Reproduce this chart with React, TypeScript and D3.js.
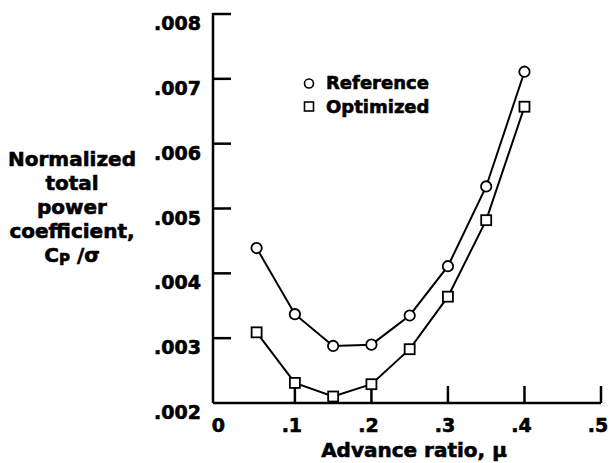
import React from "react";
import * as d3 from "d3";

// Advance ratio values and normalized total power coefficient, Cp/σ
const advanceRatio = [0.05, 0.1, 0.15, 0.2, 0.25, 0.3, 0.35, 0.4];
const referenceCp = [0.00439, 0.00337, 0.00288, 0.0029, 0.00335, 0.00411, 0.00534, 0.00711];
const optimizedCp = [0.00309, 0.00231, 0.0021, 0.00229, 0.00283, 0.00364, 0.00482, 0.00657];

const xTicks = [0, 0.1, 0.2, 0.3, 0.4, 0.5];
const xTickLabels = ["0", ".1", ".2", ".3", ".4", ".5"];
const yTicks = [0.002, 0.003, 0.004, 0.005, 0.006, 0.007, 0.008];
const yTickLabels = [".002", ".003", ".004", ".005", ".006", ".007", ".008"];

const yTitleLines = ["Normalized", "total", "power", "coefficient,"];
const legendLabels = ["Reference", "Optimized"];

const W = 612;
const H = 463;
const FONT = "'DejaVu Sans', sans-serif";

export default function App() {
  const x = d3.scaleLinear().domain([-0.007, 0.5]).range([213, 601]);
  const y = d3.scaleLinear().domain([0.002, 0.008]).range([403, 14]);

  const line = d3
    .line<[number, number]>()
    .x((d) => x(d[0]))
    .y((d) => y(d[1]));

  const refPts = advanceRatio.map((m, i) => [m, referenceCp[i]] as [number, number]);
  const optPts = advanceRatio.map((m, i) => [m, optimizedCp[i]] as [number, number]);

  const x0 = x.range()[0];
  const yBottom = y.range()[0];
  const yTop = y.range()[1];
  const sq = 10;

  return (
    <svg
      width={W}
      height={H}
      viewBox={`0 0 ${W} ${H}`}
      style={{ position: "absolute", left: 0, top: 0, background: "#fff" }}
      fontFamily={FONT}
      fontWeight="bold"
    >
      {/* axes */}
      <g stroke="#000" strokeWidth={2.5} fill="none">
        <line x1={x0} y1={yTop - 1} x2={x0} y2={yBottom} />
        <line x1={x0} y1={yBottom} x2={x(0.5)} y2={yBottom} />
        {yTicks.slice(1).map((t) => (
          <line key={t} x1={x0} x2={x0 + 18} y1={y(t)} y2={y(t)} />
        ))}
        {xTicks.slice(1).map((t) => (
          <line key={t} x1={x(t)} x2={x(t)} y1={yBottom} y2={yBottom - 17} />
        ))}
      </g>

      <g stroke="#000" strokeWidth={0.6}>
        {/* y tick labels */}
        {yTicks.map((t, i) => (
          <text key={t} x={201} y={y(t) + 16} fontSize={19} textAnchor="end">
            {yTickLabels[i]}
          </text>
        ))}

        {/* x tick labels */}
        {xTicks.map((t, i) => (
          <text key={t} x={x(t) - (i === 0 ? 0 : 3)} y={yBottom + 29} fontSize={19} textAnchor="middle">
            {xTickLabels[i]}
          </text>
        ))}

        {/* axis titles */}
        <text x={414} y={457} fontSize={20} textAnchor="middle">
          Advance ratio, μ
        </text>
        <g fontSize={20} textAnchor="middle">
          {yTitleLines.map((s, i) => (
            <text key={s} x={72} y={166 + i * 24}>
              {s}
            </text>
          ))}
          <text x={72} y={262}>
            C
            <tspan fontSize={15} dy={3}>P</tspan>
            <tspan dy={-3}> /σ</tspan>
          </text>
        </g>

        {/* legend labels */}
        <text x={326} y={89} fontSize={18}>
          {legendLabels[0]}
        </text>
        <text x={326} y={113} fontSize={18}>
          {legendLabels[1]}
        </text>
      </g>

      {/* data lines */}
      <g stroke="#000" strokeWidth={2} fill="none">
        <path d={line(refPts) ?? ""} />
        <path d={line(optPts) ?? ""} />
      </g>

      {/* markers */}
      <g stroke="#000" strokeWidth={1.8} fill="#fff">
        {refPts.map((p, i) => (
          <circle key={`r${i}`} cx={x(p[0])} cy={y(p[1])} r={5.2} />
        ))}
        {optPts.map((p, i) => (
          <rect key={`o${i}`} x={x(p[0]) - sq / 2} y={y(p[1]) - sq / 2} width={sq} height={sq} />
        ))}
      </g>

      {/* legend symbols */}
      <circle cx={309} cy={83.5} r={4.5} stroke="#000" strokeWidth={1.6} fill="#fff" />
      <rect x={304.5} y={102} width={9} height={9} stroke="#000" strokeWidth={1.6} fill="#fff" />
    </svg>
  );
}
